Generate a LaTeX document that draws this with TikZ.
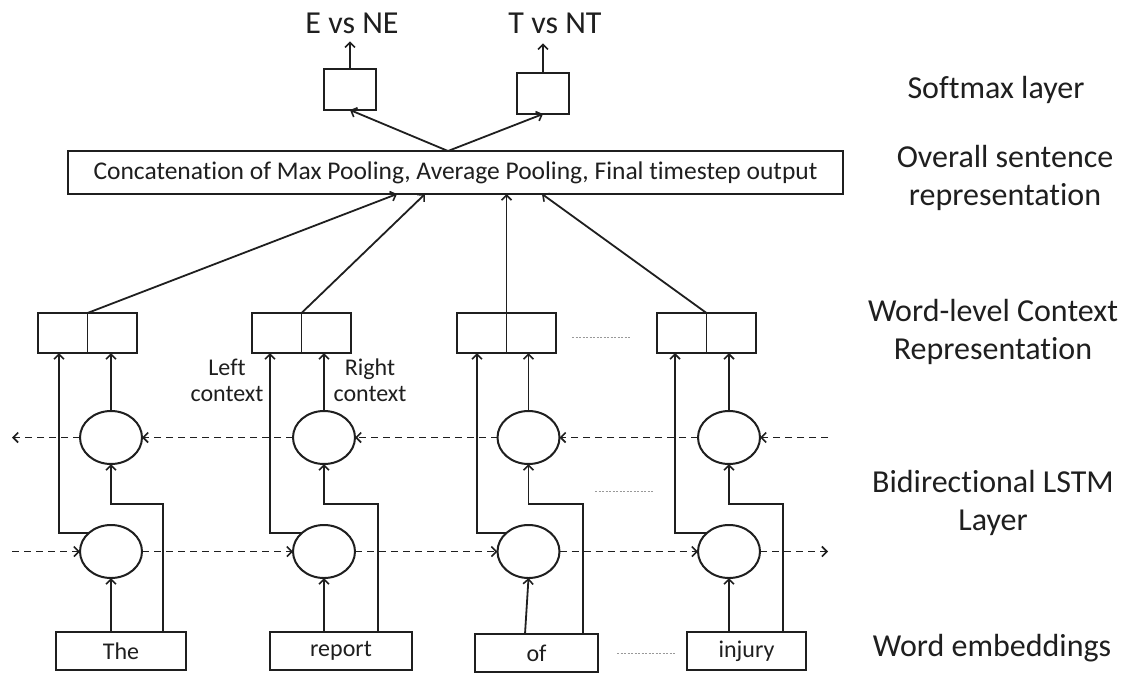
\documentclass[tikz,border=0pt]{standalone}
\usepackage{fontspec}
\setmainfont{Carlito}[RawFeature={-liga;-clig;-calt;-dlig}]
\usetikzlibrary{arrows.meta,shapes.geometric}
\begin{document}
\begin{tikzpicture}[x=1pt,y=-1pt,
  line width=1.8pt, color=black!88,
  arr/.style={-{Straight Barb[length=5pt,width=10pt,line width=1.6pt]}},
  darr/.style={arr,dash pattern=on 7pt off 5pt},
  box/.style={draw,rectangle,inner sep=0pt,outer sep=0pt,line width=2pt},
  cell/.style={ellipse,draw,minimum width=62pt,minimum height=53pt,inner sep=0pt,outer sep=0pt,line width=2pt},
  ctxbox/.style={box,minimum width=99pt,minimum height=40pt},
  big/.style={font=\fontsize{32}{38}\selectfont,align=center,inner sep=0pt},
  small/.style={font=\fontsize{24}{26}\selectfont,align=center,inner sep=0pt},
  dots/.style={draw=black!40,line width=1pt,dash pattern=on 2pt off 1.5pt}
]
\useasboundingbox (0,0) rectangle (1137,673);
\fill[white] (0,0) rectangle (1137,673);

% softmax
\node[box,minimum width=52pt,minimum height=41pt] (s1) at (350,89.5) {};
\node[box,minimum width=52pt,minimum height=41pt] (s2) at (543,93.5) {};
\node[big] (t1) at (352,23) {E vs NE};
\node[big] (t2) at (555,23) {T vs NT};
\draw[arr] (s1.north) -- ([yshift=-7pt]s1.north |- t1.south);
\draw[arr] (s2.north) -- ([yshift=-9pt]s2.north |- t2.south);

% concat
\node[box,minimum width=775pt,minimum height=43pt,font=\fontsize{25.5}{27}\selectfont] (cat) at (455.5,172.5) {Concatenation of Max Pooling, Average Pooling, Final timestep output};
\coordinate (ctop) at (448,151);
\draw[arr] (ctop) -- (s1.south);
\draw[arr] (ctop) -- (s2.south);

% context boxes
\foreach \i/\x in {1/87.5,2/301.5,3/506.5,4/706.5}{
  \node[ctxbox] (ctx\i) at (\x,333) {};
  \draw[line width=1.2pt] (ctx\i.north) -- (ctx\i.south);
}
\coordinate (k1) at (397,194);
\coordinate (k2) at (425,194);
\coordinate (k3) at (506.5,194);
\coordinate (k4) at (542,194);
\foreach \i in {1,...,4}{\draw[arr] (ctx\i.north) -- (k\i);}

% LSTM cells
\foreach \i/\x in {1/111,2/324,3/528.5,4/729}{
  \node[cell] (b\i) at (\x,437.5) {};
  \node[cell] (f\i) at (\x,551.5) {};
}

% embeddings
\node[box,minimum width=130pt,minimum height=38pt,font=\fontsize{24}{26}\selectfont] (e1) at (121,651) {The};
\node[box,minimum width=142pt,minimum height=38pt,font=\fontsize{24}{26}\selectfont] (e2) at (341,651) {report};
\node[box,minimum width=123pt,minimum height=38pt,font=\fontsize{24}{26}\selectfont] (e3) at (536.5,653) {of};
\node[box,minimum width=119pt,minimum height=38pt,font=\fontsize{24}{26}\selectfont] (e4) at (746.5,651) {injury};

% column connectors
\coordinate (r1) at (163,504); \coordinate (l1) at (59,533);
\coordinate (r2) at (378,504); \coordinate (l2) at (270,533);
\coordinate (r3) at (583,504); \coordinate (l3) at (477,533);
\coordinate (r4) at (783,504); \coordinate (l4) at (675,533);
\coordinate (u3) at (525,634);
\draw[arr] (e1.north -| f1) -- (f1.south);
\draw[arr] (e2.north -| f2) -- (f2.south);
\draw[arr] (u3) -- (f3.south);
\draw[arr] (e4.north -| f4) -- (f4.south);
\foreach \i in {1,...,4}{
  \draw[arr] (e\i.north -| r\i) -- (r\i) -| (b\i.south);
  \draw[arr] (f\i.140) -| (ctx\i.south -| l\i);
  \draw[arr] (b\i.north) -- (b\i.north |- ctx\i.south);
}

% recurrent dashed arrows
\coordinate (bR) at (828,437.5); \coordinate (bL) at (12,437.5);
\coordinate (fL) at (12,551.5); \coordinate (fR) at (828,551.5);
\draw[darr] (bR) -- (b4.east);
\draw[darr] (b4.west) -- (b3.east);
\draw[darr] (b3.west) -- (b2.east);
\draw[darr] (b2.west) -- (b1.east);
\draw[darr] (b1.west) -- (bL);
\draw[darr] (fL) -- (f1.west);
\draw[darr] (f1.east) -- (f2.west);
\draw[darr] (f2.east) -- (f3.west);
\draw[darr] (f3.east) -- (f4.west);
\draw[darr] (f4.east) -- (fR);

% ellipsis dots
\draw[dots] (572,337) -- (630,337);
\draw[dots] (595,491) -- (653,491);
\draw[dots] (617,653) -- (675,653);

% context labels
\node[small] (lc) at (227,380) {Left\\context};
\node[small] (rc) at (370,380) {Right\\context};

% layer labels
\node[big] (L1) at (996,90) {Softmax layer};
\node[big] (L2) at (1005,178) {Overall sentence\\representation};
\node[big] (L3) at (993,332) {Word-level Context\\Representation};
\node[big] (L4) at (993,503) {Bidirectional LSTM\\Layer};
\node[big] (L5) at (992,648) {Word embeddings};
\end{tikzpicture}
\end{document}
